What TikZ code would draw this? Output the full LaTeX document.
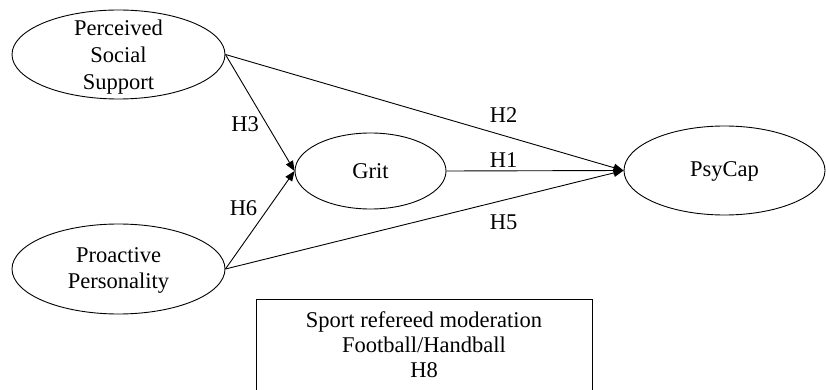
\documentclass[tikz,border=0pt]{standalone}
\usepackage{fontspec}
\setmainfont{Liberation Serif}
\usetikzlibrary{shapes.geometric,arrows.meta}
\begin{document}
\begin{tikzpicture}[x=1pt,y=1pt,
  every node/.style={font=\fontsize{22.5}{27}\selectfont},
  oval/.style={draw,ellipse,line width=0.9pt,inner sep=0pt},
  txt/.style={align=center,inner sep=0pt},
  hlab/.style={inner sep=0pt},
  conn/.style={line width=0.9pt,-{Triangle[length=10pt,width=8pt]}}]
\useasboundingbox (0,0) rectangle (826,-390);
\clip (0,0) rectangle (826,-390);
\node[oval,minimum width=213pt,minimum height=89pt] (pss) at (118.5,-54.5) {};
\node[txt] (psst) at (118.5,-57) {Perceived\\Social\\Support};
\node[oval,minimum width=213pt,minimum height=90pt] (pp) at (118.5,-269) {};
\node[txt,font=\fontsize{22.5}{26}\selectfont] (ppt) at (118.5,-270) {Proactive\\Personality};
\node[oval,minimum width=151pt,minimum height=76pt] (grit) at (370.5,-171) {};
\node[txt] (gritt) at (370.5,-171) {Grit};
\node[oval,minimum width=201pt,minimum height=89pt] (psy) at (724.5,-170.5) {};
\node[txt] (psyt) at (724.5,-171) {PsyCap};
\draw[conn] (pss.east) -- (psy.west);
\draw[conn] (pss.east) -- (grit.west);
\draw[conn] (pp.east) -- (grit.west);
\draw[conn] (pp.east) -- (psy.west);
\draw[conn] (grit.east) -- (psy.west);
\node[hlab] (h3) at (245,-124) {H3};
\node[hlab] (h6) at (243.5,-208.5) {H6};
\node[hlab] (h2) at (503.5,-115) {H2};
\node[hlab] (h1) at (503.5,-160.5) {H1};
\node[hlab] (h5) at (503.5,-222.5) {H5};
\node[draw,line width=0.9pt,minimum width=336pt,minimum height=96pt,inner sep=0pt] (box) at (424,-347) {};
\node[txt,font=\fontsize{22.5}{25}\selectfont] (boxt) at (424,-345) {Sport refereed moderation\\Football/Handball\\H8};
\end{tikzpicture}
\end{document}
